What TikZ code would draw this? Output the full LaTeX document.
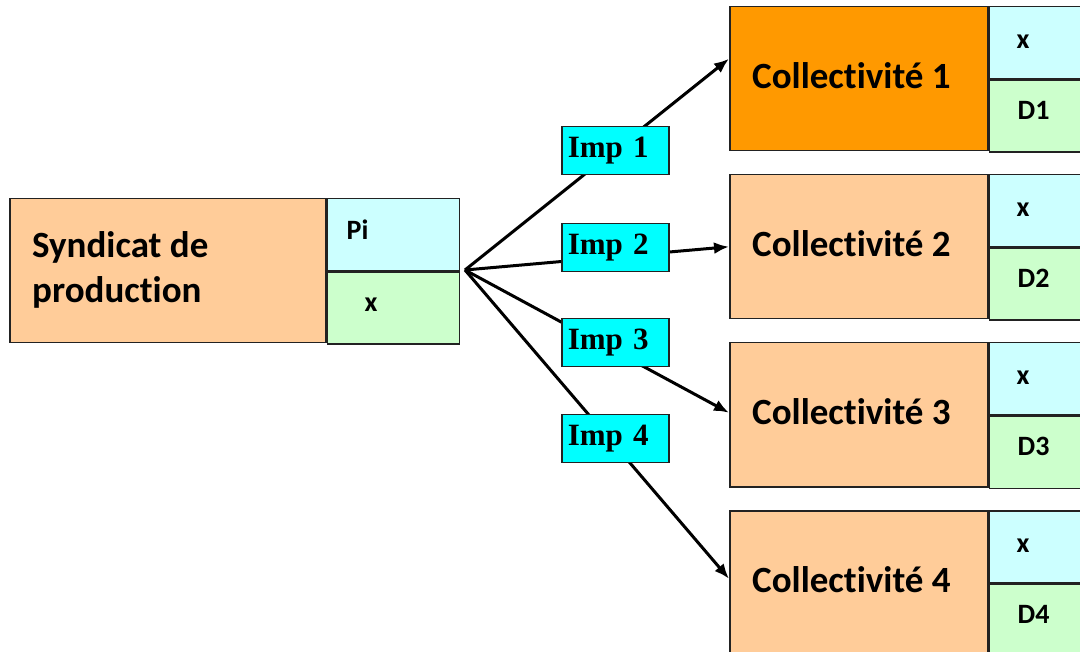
\documentclass[tikz,border=0pt]{standalone}
\usepackage{fontspec}
\setmainfont{Carlito}[Ligatures=NoCommon]
\newfontfamily\tms{Liberation Serif}
\usetikzlibrary{arrows.meta,calc}
\definecolor{peach}{HTML}{FFCC99}
\definecolor{orng}{HTML}{FF9900}
\definecolor{lcyan}{HTML}{CCFFFF}
\definecolor{lgreen}{HTML}{CCFFCC}
\definecolor{aqua}{HTML}{00FFFF}
\definecolor{edge}{HTML}{222222}
\begin{document}
\begin{tikzpicture}[x=1pt,y=-1pt,
  cell/.style={draw=edge,line width=1.5pt,anchor=north west,inner sep=0pt},
  big/.style={cell,minimum width=258pt,minimum height=144pt},
  rcell/.style={cell,minimum width=113pt,minimum height=72pt},
  scell/.style={cell,minimum width=132pt,minimum height=72pt},
  bigtxt/.style={inner sep=0pt,anchor=base west,font=\bfseries\fontsize{37}{40}\selectfont},
  smtxt/.style={inner sep=0pt,anchor=base west,font=\bfseries\fontsize{28}{32}\selectfont},
  imp/.style={draw=edge,line width=1.5pt,fill=aqua,anchor=north west,minimum height=48pt,
    text width=95pt,inner xsep=6pt,inner ysep=0pt,align=left,
    font=\tms\bfseries\fontsize{31}{33}\selectfont},
  arr/.style={line width=3pt,-{Latex[length=15pt,width=12pt]}}
]
\useasboundingbox (0,0) rectangle (1080,652);
\clip (0,0) rectangle (1080,652);

% Syndicat de production
\node[cell,fill=peach,minimum width=316pt,minimum height=144pt] (s) at (9,198) {};
\node[scell,fill=lcyan] (sp) at (s.north east) {};
\node[scell,fill=lgreen] (sx) at (sp.south west) {};
\node[bigtxt] (st1) at ([xshift=23pt,yshift=13pt]s.west) {Syndicat de};
\node[bigtxt] (st2) at ([xshift=23pt,yshift=-32pt]s.west) {production};
\node[smtxt] (spl) at ([xshift=20pt,yshift=32pt]sx.north west) {Pi};
\node[smtxt] (sxl) at ([xshift=38pt,yshift=-40pt]sx.north west) {x};

% Collectivites
\foreach \i/\t/\f in {1/6/orng,2/174/peach,3/342/peach,4/510/peach} {
  \node[big,fill=\f] (c\i) at (729,\t) {};
  \node[rcell,fill=lcyan] (cx\i) at (c\i.north east) {};
  \node[rcell,fill=lgreen] (cd\i) at (cx\i.south west) {};
  \node[bigtxt] (ct\i) at ([xshift=23pt,yshift=-10pt]c\i.west) {Collectivité \i};
  \node[smtxt] (cxl\i) at ([xshift=28pt,yshift=31pt]cd\i.north west) {x};
  \node[smtxt] (cdl\i) at ([xshift=29pt,yshift=-40pt]cd\i.north west) {D\i};
}

% connectors
\coordinate (o) at (465,270);
\draw[arr] (o) -- ([yshift=20pt]c1.west);
\draw[arr] (o) -- ([yshift=0pt]c2.west);
\draw[arr] (o) -- ([yshift=2pt]c3.west);
\draw[arr] (o) -- ([yshift=4pt]c4.west);

% Imp labels
\node[imp] (i1) at (561,126) {Imp 1};
\node[imp] (i2) at (561,223) {Imp 2};
\node[imp] (i3) at (561,318) {Imp 3};
\node[imp] (i4) at (561,414) {Imp 4};
\end{tikzpicture}
\end{document}
